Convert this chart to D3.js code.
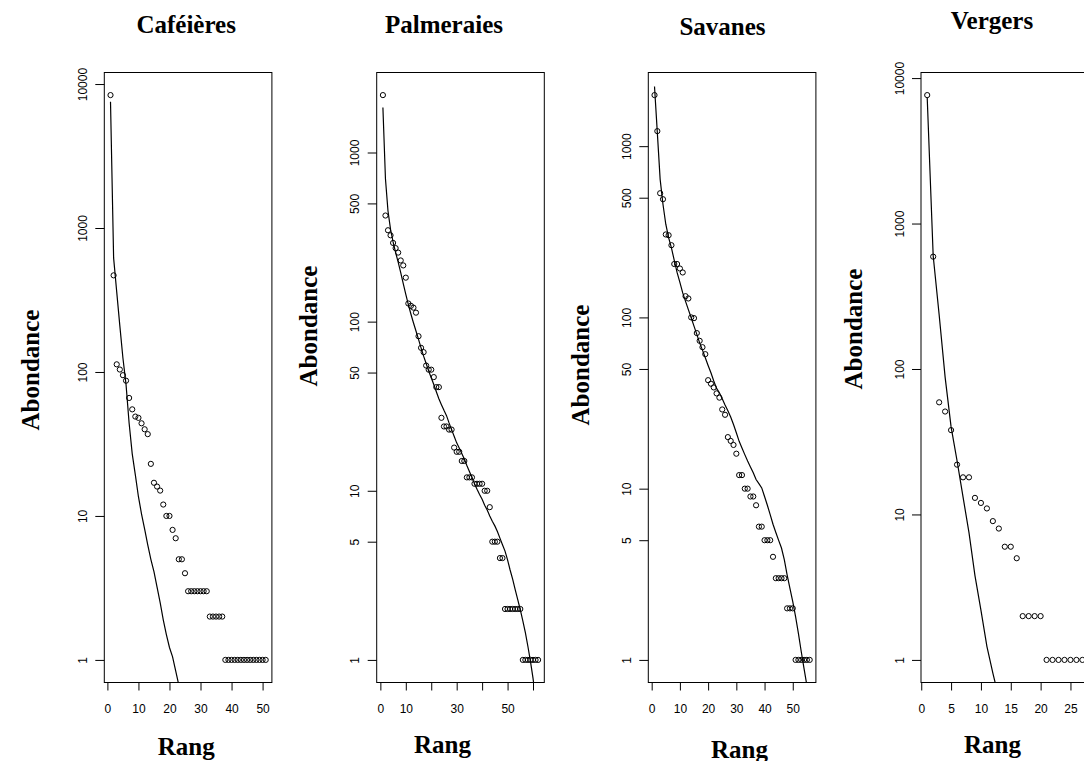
<!DOCTYPE html>
<html>
<head>
<meta charset="utf-8">
<script src="https://cdn.jsdelivr.net/npm/d3@7"></script>
<style>
  body { margin: 0; background: #fff; }
  svg { display: block; }
  .tick text { font-family: "Liberation Sans", Arial, sans-serif; font-size: 12px; fill: #000; }
  .lab { font-family: "Liberation Serif", "Times New Roman", serif; font-weight: bold; font-size: 25px; fill: #000; }
</style>
</head>
<body>
<svg id="chart" width="1084" height="761"></svg>
<script>
// panel names
const panelNames = ["Caféières", "Palmeraies", "Savanes", "Vergers"];

// observed abundances by rank
const cafeAbund = [8380, 469, 113, 104, 95, 87, 66, 55, 49, 48, 44, 40, 37, 23, 17, 16, 15, 12, 10, 10,
  8, 7, 5, 5, 4, 3, 3, 3, 3, 3, 3, 3, 2, 2, 2, 2, 2, 1, 1, 1, 1, 1, 1, 1, 1, 1, 1, 1, 1, 1, 1];
const palmAbund = [2185, 424, 347, 324, 292, 272, 256, 230, 215, 182, 128, 124, 121, 113, 82, 70, 66, 55, 52, 52,
  47, 41, 41, 27, 24, 24, 23, 23, 18, 17, 17, 15, 15, 12, 12, 12, 11, 11, 11, 11, 10, 10, 8, 5, 5, 5, 4, 4,
  2, 2, 2, 2, 2, 2, 2, 1, 1, 1, 1, 1, 1, 1];
const savAbund = [1987, 1224, 531, 490, 305, 302, 264, 205, 205, 193, 183, 133, 129, 100, 99, 81, 73, 67, 61, 43,
  41, 39, 36, 34, 29, 27, 20, 19, 18, 16, 12, 12, 10, 10, 9, 9, 8, 6, 6, 5, 5, 5, 4, 3, 3, 3, 3, 2, 2, 2,
  1, 1, 1, 1, 1, 1];
const vergAbund = [7640, 592, 59, 51, 38, 22, 18, 18, 13, 12, 11, 9, 8, 6, 6, 5, 2, 2, 2, 2, 1, 1, 1, 1, 1, 1, 1];

// fitted model values by rank (line)
const cafeFit = [7530, 620, 360, 210, 125, 82, 44, 27, 19.3, 13.6, 10.3, 8.1, 6.3, 5.0, 4.1, 3.2, 2.5, 1.9, 1.5, 1.22,
  1.05, 0.84, 0.67];
const palmFit = [1846, 700, 451, 351, 296, 256, 225, 195, 168, 145, 126, 111, 98.5, 88, 78.5, 70, 62.5, 56.6, 51, 46.6,
  42.5, 38.5, 35, 32.3, 29.9, 27.8, 25.2, 23, 21, 19.2, 17.9, 16.6, 15.4, 14.1, 13.0, 12.0, 11.0, 10.2, 9.5, 8.9,
  8.2, 7.7, 7.1, 6.6, 6.2, 5.75, 5.25, 4.8, 4.4, 3.9, 3.4, 3.0, 2.6, 2.27, 1.98, 1.7, 1.45, 1.2, 0.98, 0.78, 0.6, 0.45];
const savFit = [2230, 1200, 640, 458, 350, 292, 255, 215, 183, 160, 139, 124, 111, 99.5, 89, 79.6, 71, 64.4, 58.1, 52.4,
  47.5, 42.5, 38.5, 36.3, 33.5, 30.8, 28.5, 26.2, 23.7, 21.2, 18.9, 17.3, 15.8, 14.5, 13.4, 12.4, 11.3, 10.7, 10.1, 9.0,
  8.0, 7.05, 6.2, 5.55, 4.99, 4.5, 3.85, 3.14, 2.62, 2.19, 1.79, 1.43, 1.12, 0.89, 0.71, 0.55];
const vergFit = [7360, 600, 236, 88, 40, 23.4, 13.2, 7.5, 3.8, 2.2, 1.24, 0.81, 0.55];

// tick values and labels
const yTicksA = [1, 10, 100, 1000, 10000];
const yTicksB = [1, 5, 10, 50, 100, 500, 1000];
const xTicks = [[0, 10, 20, 30, 40, 50], [0, 10, 20, 30, 40, 50, 60], [0, 10, 20, 30, 40, 50], [0, 5, 10, 15, 20, 25]];
const xTickLabels = [[0, 10, 20, 30, 40, 50], [0, 10, 30, 50], [0, 10, 20, 30, 40, 50], [0, 5, 10, 15, 20, 25]];

const panels = [
  { name: panelNames[0], obs: cafeAbund, fit: cafeFit, yTicks: yTicksA },
  { name: panelNames[1], obs: palmAbund, fit: palmFit, yTicks: yTicksB },
  { name: panelNames[2], obs: savAbund, fit: savFit, yTicks: yTicksB },
  { name: panelNames[3], obs: vergAbund, fit: vergFit, yTicks: yTicksA }
];

// layout
const boxLeft = [104.3, 376.7, 648.3, 921];
const boxW = 167.6, boxTop = 72.5, boxH = 610;
const titlePos = [[186.2, 33.3], [444, 33], [722.5, 35], [992, 29.3]];
const xlabPos = [[186.2, 755], [442.5, 753.3], [739.5, 758.3], [992.5, 753.3]];
const ylabPos = [[31, 370], [309, 326], [581, 365], [854, 329]];

const svg = d3.select("#chart");
svg.append("rect").attr("width", 1084).attr("height", 761).attr("fill", "#fff");

panels.forEach((p, i) => {
  const n = p.obs.length;
  const ext = 0.04 * (n - 1);
  const x = d3.scaleLinear().domain([1 - ext, n + ext]).range([0, boxW]);
  const lmax = Math.log10(d3.max(p.obs)), lmin = Math.log10(d3.min(p.obs));
  const lext = 0.04 * (lmax - lmin);
  const y = d3.scaleLog().domain([Math.pow(10, lmin - lext), Math.pow(10, lmax + lext)]).range([boxH, 0]);

  const g = svg.append("g").attr("transform", `translate(${boxLeft[i]},${boxTop})`);

  const clipId = "clip" + i;
  g.append("clipPath").attr("id", clipId).append("rect").attr("width", boxW).attr("height", boxH);

  const plot = g.append("g").attr("clip-path", `url(#${clipId})`);

  plot.append("path")
    .datum(p.fit)
    .attr("fill", "none")
    .attr("stroke", "#000")
    .attr("stroke-width", 1.2)
    .attr("d", d3.line().x((d, k) => x(k + 1)).y((d) => y(d)));

  plot.selectAll("circle")
    .data(p.obs)
    .enter()
    .append("circle")
    .attr("cx", (d, k) => x(k + 1))
    .attr("cy", (d) => y(d))
    .attr("r", 2.6)
    .attr("fill", "none")
    .attr("stroke", "#000")
    .attr("stroke-width", 1);

  // box
  g.append("rect").attr("width", boxW).attr("height", boxH)
    .attr("fill", "none").attr("stroke", "#000").attr("stroke-width", 1);

  // y axis
  const yAxis = g.append("g")
    .call(d3.axisLeft(y).tickValues(p.yTicks).tickSize(9).tickFormat(d3.format("d")));
  yAxis.select(".domain").remove();
  yAxis.selectAll("line").attr("stroke", "#000");
  yAxis.selectAll("text")
    .attr("transform", "rotate(-90)")
    .attr("x", 0).attr("y", -17.5).attr("dy", 0)
    .attr("text-anchor", "middle");

  // x axis
  const labs = xTickLabels[i];
  const xAxis = g.append("g").attr("transform", `translate(0,${boxH})`)
    .call(d3.axisBottom(x).tickValues(xTicks[i]).tickSize(8)
      .tickFormat((d) => (labs.includes(d) ? d : "")));
  xAxis.select(".domain").remove();
  xAxis.selectAll("line").attr("stroke", "#000");
  xAxis.selectAll("text").attr("y", 0).attr("dy", 0).attr("transform", "translate(0,30)");

  svg.append("text").attr("class", "lab").attr("x", titlePos[i][0]).attr("y", titlePos[i][1])
    .attr("text-anchor", "middle").text(p.name);
  svg.append("text").attr("class", "lab").attr("x", xlabPos[i][0]).attr("y", xlabPos[i][1])
    .attr("text-anchor", "middle").text("Rang");
  svg.append("text").attr("class", "lab")
    .attr("transform", `translate(${ylabPos[i][0] + 8},${ylabPos[i][1]}) rotate(-90)`)
    .attr("text-anchor", "middle").text("Abondance");
});
</script>
</body>
</html>
